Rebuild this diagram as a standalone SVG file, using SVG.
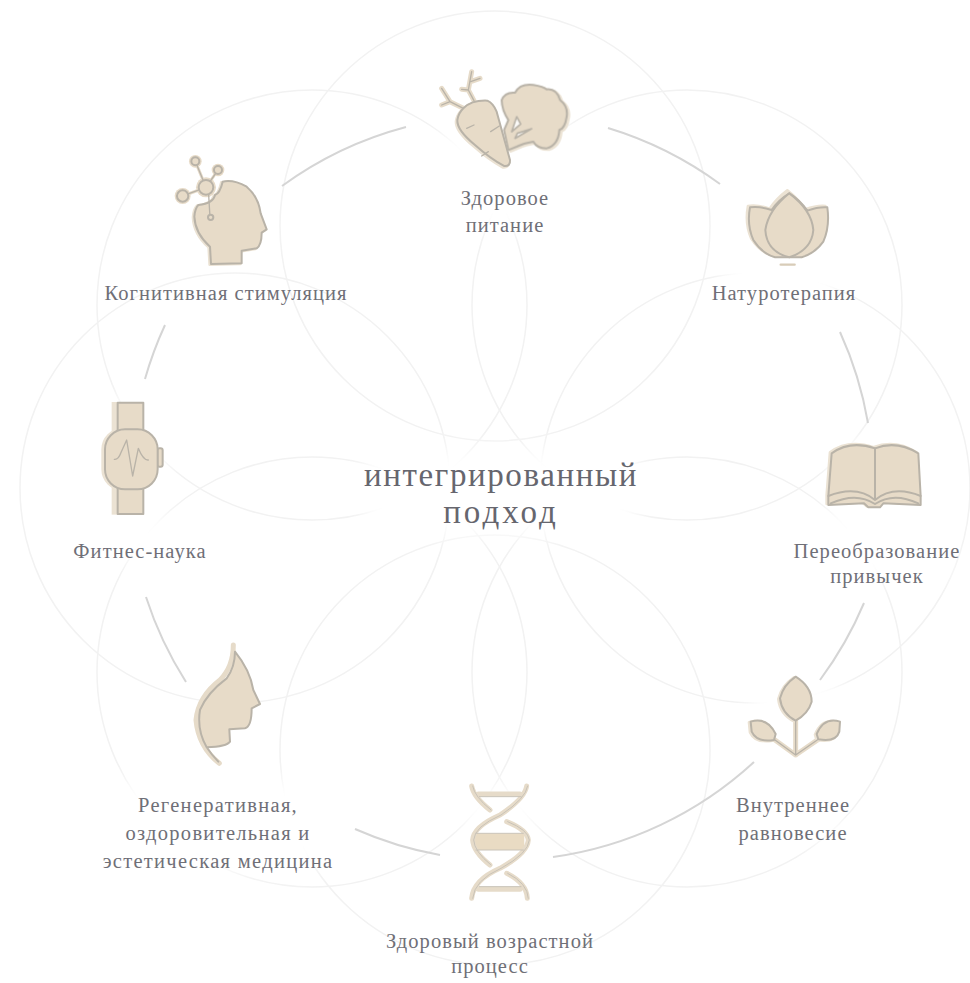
<svg xmlns="http://www.w3.org/2000/svg" width="970" height="983" viewBox="0 0 970 983">
<style>
text{font-family:"Liberation Serif",serif;fill:#6f6f77;font-size:20.5px;text-anchor:middle;letter-spacing:1.05px}
.title{font-size:33px;letter-spacing:1.6px;fill:#66666e}
.sub{letter-spacing:3px}
.wide{letter-spacing:1.3px}
.ring{fill:none;stroke:#f2f2f2;stroke-width:1.5}
.arc{fill:none;stroke:#d5d5d5;stroke-width:2}
.i{fill:#e7dbc8;stroke:#b9b3a8;stroke-width:6;stroke-linejoin:round;stroke-linecap:round}
.l{fill:none;stroke:#b9b3a8;stroke-width:6;stroke-linecap:round;stroke-linejoin:round}
.h{fill:#ebe2d3;stroke:#ebe2d3;stroke-width:8;stroke-linejoin:round;stroke-linecap:round}
.hl{fill:none;stroke:#e6dbc9;stroke-width:15;stroke-linecap:round;stroke-linejoin:round}
.w{fill:#fbfaf8;stroke:#b9b3a8;stroke-width:5;stroke-linejoin:round}
.c{fill:#fff}
</style>
<defs>
<filter id="soft" x="-10%" y="-10%" width="120%" height="120%"><feGaussianBlur stdDeviation="0.7"/></filter>
<filter id="fade" x="-30%" y="-30%" width="160%" height="160%"><feGaussianBlur stdDeviation="10"/></filter>
</defs>
<g id="rings">
<circle class="ring" cx="495" cy="226" r="215"/>
<circle class="ring" cx="687" cy="305" r="215"/>
<circle class="ring" cx="755" cy="488" r="215"/>
<circle class="ring" cx="687" cy="672" r="215"/>
<circle class="ring" cx="495" cy="750" r="215"/>
<circle class="ring" cx="312" cy="672" r="215"/>
<circle class="ring" cx="235" cy="488" r="215"/>
<circle class="ring" cx="312" cy="305" r="215"/>
<g filter="url(#fade)">
<rect class="c" x="365" y="450" width="272" height="85"/>
<rect class="c" x="445" y="70" width="120" height="160"/>
<rect class="c" x="195" y="160" width="70" height="100"/>
<rect class="c" x="725" y="190" width="115" height="110"/>
<rect class="c" x="830" y="440" width="120" height="140"/>
<rect class="c" x="750" y="680" width="90" height="160"/>
<rect class="c" x="465" y="785" width="70" height="120"/>
<rect class="c" x="120" y="780" width="200" height="90"/>
<rect class="c" x="100" y="400" width="65" height="160"/>
</g>
</g>
<g id="connectors">
<path class="arc" d="M282 186A372 372 0 0 1 406 127"/>
<path class="arc" d="M608 128A372 372 0 0 1 720 184"/>
<path class="arc" d="M840 332A372 372 0 0 1 868 423"/>
<path class="arc" d="M864 603A372 372 0 0 1 820 680"/>
<path class="arc" d="M754 762A372 372 0 0 1 553 857"/>
<path class="arc" d="M440 855A372 372 0 0 1 355 829"/>
<path class="arc" d="M186 682A372 372 0 0 1 146 597"/>
<path class="arc" d="M145 379A372 372 0 0 1 165 325"/>
</g>
<g id="center"><text class="title" x="501" y="486">интегрированный</text><text class="title sub" x="501" y="523">подход</text></g>

<g id="node-food">
<g transform="translate(400 50) scale(.3333)" filter="url(#soft)">
<path class="hl" d="M190 175L150 155L125 115M150 155L125 165M222 152L205 120L215 65M205 120L185 118M212 95L240 85"/>
<path class="h" transform="translate(6 4)" d="M325 210Q305 180 305 150Q315 125 345 128Q360 100 400 105Q430 110 440 118Q470 115 480 150Q505 170 500 200Q495 235 478 240Q475 285 440 295Q410 295 400 275Q370 280 350 290L325 300L312 240Z"/>
<path class="i" d="M325 210Q305 180 305 150Q315 125 345 128Q360 100 400 105Q430 110 440 118Q470 115 480 150Q505 170 500 200Q495 235 478 240Q475 285 440 295Q410 295 400 275Q370 280 350 290L325 300L312 240Z"/>
<path class="w" d="M350 200L362 222L335 245Z"/><path class="w" d="M395 236L345 265L352 250Z"/>
<path class="h" transform="translate(-4 4)" d="M190 175Q215 150 262 152Q280 160 290 185L330 330Q332 350 312 348Q270 325 225 285Q170 240 172 210Q175 190 190 175Z"/>
<path class="i" d="M190 175Q215 150 262 152Q280 160 290 185L330 330Q332 350 312 348Q270 325 225 285Q170 240 172 210Q175 190 190 175Z"/>
<path class="l" d="M200 235L222 225M272 245L298 228M265 305L245 318M190 175L150 155L125 115M150 155L125 165M222 152L205 120L215 65M205 120L185 118M212 95L240 85" style="stroke-width:4"/>
</g>
<text x="505" y="205">Здоровое</text><text x="505" y="232">питание</text>
</g>

<g id="node-naturo">
<g transform="translate(720 170) scale(.3333)" filter="url(#soft)">
<path class="h" transform="translate(-6 -4)" d="M155 120Q120 108 90 112Q80 165 100 210Q125 250 165 262L245 262Q285 250 310 215Q330 170 322 112Q295 110 262 122Q240 90 208 65Q175 90 155 120Z"/>
<path class="i" d="M155 120Q120 108 90 112Q80 165 100 210Q125 250 165 262L245 262Q285 250 310 215Q330 170 322 112Q295 110 262 122Q240 90 208 70Q175 90 155 120Z"/>
<path class="i" d="M208 70Q275 120 280 180Q275 240 208 262Q140 245 136 180Q145 120 208 70Z"/>
<path class="hl" d="M182 284H224" style="stroke-width:7;stroke:#d8ccb8"/>
</g>
<text x="784" y="300">Натуротерапия</text>
</g>

<g id="node-habits">
<g transform="translate(800 420) scale(.3333)" filter="url(#soft)">
<path class="h" transform="translate(-5 -3)" d="M95 100Q150 60 225 85Q290 60 355 100L362 228V255L250 250L240 262H205L192 250L85 255V228Z"/>
<path class="i" d="M95 100Q150 60 225 85Q290 60 355 100L362 228V255L250 250L240 262H205L192 250L85 255V228Z"/>
<path class="l" d="M225 85V240M85 228Q170 195 225 240Q280 195 362 228M92 250Q170 215 225 252Q280 215 355 250"/>
</g>
<text x="877" y="558">Переобразование</text><text x="877" y="583">привычек</text>
</g>

<g id="node-balance">
<g transform="translate(730 660) scale(.3333)" filter="url(#soft)">
<path class="hl" d="M135 240L197 285L265 238M197 182V285"/>
<path class="h" transform="translate(-5 2)" d="M197 50Q245 80 245 125Q235 160 197 182Q155 160 150 115Q160 75 197 50ZM62 185Q112 170 137 222L132 240Q80 248 65 215ZM330 185Q282 170 260 222L265 238Q318 248 328 215Z"/>
<path class="i" d="M197 50Q245 80 245 125Q235 160 197 182Q155 160 150 115Q160 75 197 50ZM62 185Q112 170 137 222L132 240Q80 248 65 215ZM330 185Q282 170 260 222L265 238Q318 248 328 215Z"/>
<path class="l" d="M197 182V285M135 240L197 285L265 238" style="stroke-width:4"/>
</g>
<text x="793" y="812">Внутреннее</text><text x="793" y="840">равновесие</text>
</g>

<g id="node-aging">
<g transform="translate(440 770) scale(.3333)" filter="url(#soft)">
<rect x="105" y="190" width="148" height="50" fill="#e9dbc3"/>
<path class="hl" d="M95 48Q100 80 150 120M260 48Q255 85 180 135Q100 170 98 210Q100 245 150 285M200 155Q262 180 265 210Q262 250 180 295Q100 330 95 385M200 310Q260 340 262 385M115 72H240M115 358H240"/>
<path class="l" style="stroke-width:3;stroke:#c9c3b8" d="M98 48Q103 80 153 120M263 48Q258 85 183 135Q103 170 101 210Q103 245 153 285M203 155Q265 180 268 210Q265 250 183 295Q103 330 98 385M203 310Q263 340 265 385M118 80H243M118 350H243M108 190H250M108 240H250"/>
</g>
<text x="490" y="948">Здоровый возрастной</text><text x="490" y="973">процесс</text>
</g>

<g id="node-medicine">
<g transform="translate(170 630) scale(.3333)" filter="url(#soft)">
<path class="hl" d="M190 45Q190 110 150 150Q85 200 78 270Q85 350 148 400"/>
<path class="i" style="stroke-width:0" d="M195 65Q240 120 250 180L270 222L245 235Q245 290 225 295L178 298L180 335Q170 350 110 352Q80 300 90 240Q110 190 170 145Q195 110 195 65Z"/>
<path class="l" d="M195 65Q240 120 250 180L270 222L245 235Q245 290 225 295L178 298L180 335Q170 350 110 352M195 65Q195 110 170 145Q110 190 90 240Q80 300 110 352Q125 375 145 395"/>
</g>
<text x="218" y="812" class="wide">Регенеративная,</text><text x="218" y="840" class="wide">оздоровительная и</text><text x="218" y="868" class="wide">эстетическая медицина</text>
</g>

<g id="node-fitness">
<g transform="translate(80 390) scale(.3333)" filter="url(#soft)">
<rect x="95" y="36" width="95" height="338" fill="#ebe2d3"/>
<rect class="h" x="68" y="118" width="160" height="180" rx="60"/>
<rect class="i" x="113" y="38" width="77" height="90"/>
<rect class="i" x="113" y="285" width="77" height="87"/>
<rect class="i" x="232" y="175" width="16" height="55" rx="6"/>
<rect class="i" x="75" y="118" width="158" height="180" rx="60"/>
<path class="l" style="stroke-width:4" d="M103 208Q115 210 122 190L140 150L158 258L175 175Q190 212 205 210"/>
</g>
<text x="140" y="558">Фитнес-наука</text>
</g>

<g id="node-cognitive">
<g transform="translate(150 130) scale(.3333)" filter="url(#soft)">
<path class="h" transform="translate(-4 2)" d="M218 155Q250 148 290 170Q325 200 332 250L350 298L335 308Q335 345 320 355L275 362L275 400L183 402L180 350Q135 310 133 260Q135 235 145 225Q190 220 195 195Q210 190 218 155Z"/>
<path class="i" d="M218 155Q250 148 290 170Q325 200 332 250L350 298L335 308Q335 345 320 355L275 362L275 400L183 402L180 350Q135 310 133 260Q135 235 145 225Q190 220 195 195Q210 190 218 155Z"/>
<path class="hl" style="stroke-width:9" d="M168 172L136 94M168 172L204 120M168 172L98 198"/>
<circle cx="168" cy="172" r="30" fill="#e7dbc8"/><circle cx="136" cy="94" r="19" fill="#e7dbc8"/><circle cx="204" cy="120" r="19" fill="#e7dbc8"/><circle cx="98" cy="198" r="24" fill="#e7dbc8"/>
<path class="l" style="stroke-width:4" d="M168 172L136 94M168 172L204 120M168 172L98 198M176 195L180 262"/>
<circle class="i" cx="168" cy="172" r="22"/><circle class="i" cx="136" cy="94" r="12"/><circle class="i" cx="204" cy="120" r="12"/><circle class="i" cx="98" cy="198" r="17"/><circle class="i" cx="182" cy="262" r="8"/>
</g>
<text x="226" y="300">Когнитивная стимуляция</text>
</g>
</svg>
